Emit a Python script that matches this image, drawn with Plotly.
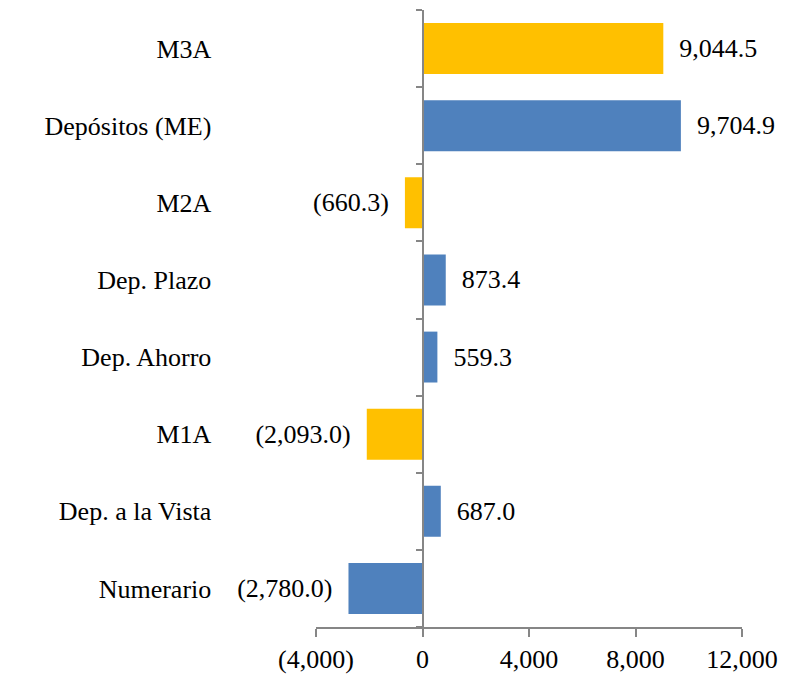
#!/usr/bin/env python3

import plotly.graph_objects as go

# categories from bottom to top
categories = ['Numerario', 'Dep. a la Vista', 'M1A', 'Dep. Ahorro',
              'Dep. Plazo', 'M2A', 'Depósitos (ME)', 'M3A']
values = [-2780.0, 687.0, -2093.0, 559.3, 873.4, -660.3, 9704.9, 9044.5]
aggregates = ['M1A', 'M2A', 'M3A']

x_ticks = [-4000, 0, 4000, 8000, 12000]
x_ticktext = ['(4,000)', '0', '4,000', '8,000', '12,000']

GOLD = '#FFC000'
BLUE = '#4F81BD'
AXIS = '#868686'
FONT = 'Liberation Serif, Times New Roman, serif'


def fmt(v):
    if v < 0:
        return '({:,.1f})  '.format(abs(v))
    return '  {:,.1f}'.format(v)


colors = [GOLD if c in aggregates else BLUE for c in categories]
labels = [fmt(v) for v in values]

fig = go.Figure()
fig.add_bar(
    y=categories, x=values, orientation='h',
    marker=dict(color=colors, line=dict(width=0)),
    text=labels, textposition='outside', cliponaxis=False,
    textfont=dict(family=FONT, size=26, color='#000000'),
)

# the page body adds 8px around the figure, so margins are shifted by that
fig.update_layout(
    width=794, height=678,
    margin=dict(l=308, r=60, t=2, b=59),
    paper_bgcolor='white', plot_bgcolor='white',
    showlegend=False, bargap=0.34,
    font=dict(family=FONT, size=26, color='#000000'),
    xaxis=dict(
        range=[-4000, 12000], tickvals=x_ticks, ticktext=x_ticktext,
        showgrid=False, zeroline=False,
        showline=True, linecolor=AXIS, linewidth=2,
        ticks='outside', ticklen=8, tickwidth=2, tickcolor=AXIS,
        anchor='y', side='bottom',
    ),
    yaxis=dict(
        type='category', categoryorder='array', categoryarray=categories,
        showgrid=False, zeroline=False,
        showline=True, linecolor=AXIS, linewidth=2,
        ticks='outside', tickson='boundaries', ticklen=6, tickwidth=2,
        tickcolor=AXIS, anchor='free', position=0.25,
        ticklabelstandoff=205,
    ),
)

fig.write_html('out.html')
